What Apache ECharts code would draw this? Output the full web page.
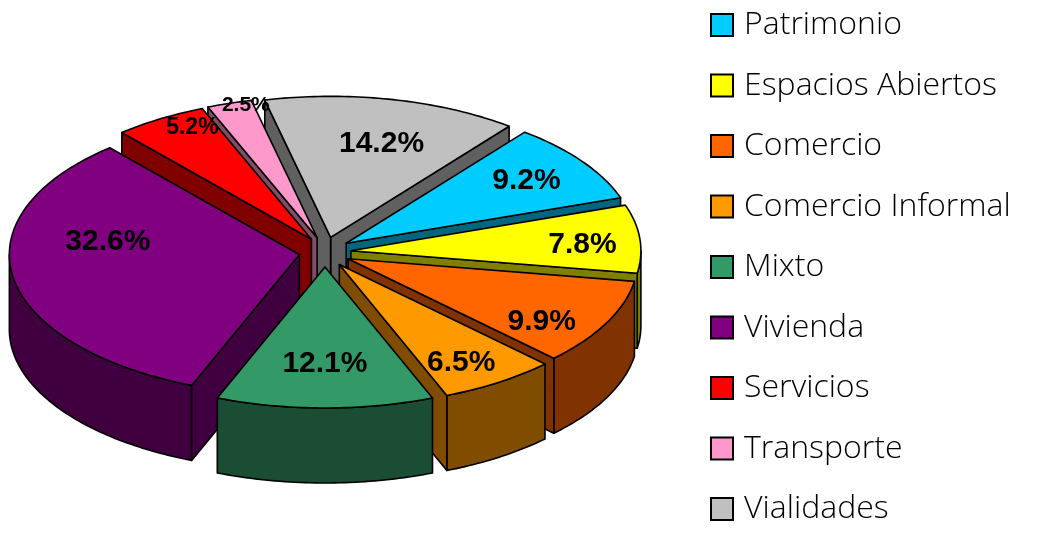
<!DOCTYPE html>
<html>
<head>
<meta charset="utf-8">
<script src="https://cdn.jsdelivr.net/npm/echarts@6/dist/echarts.min.js"></script>
<style>
html,body{margin:0;padding:0;background:#fff;}
#chart{width:1044px;height:544px;}
</style>
</head>
<body>
<div id="chart"></div>
<script>
// ---- data ----
const categories = ['Patrimonio','Espacios Abiertos','Comercio','Comercio Informal','Mixto','Vivienda','Servicios','Transporte','Vialidades'];
const values = [9.2, 7.8, 9.9, 6.5, 12.1, 32.6, 5.2, 2.5, 14.2];
const labels = ['9.2%','7.8%','9.9%','6.5%','12.1%','32.6%','5.2%','2.5%','14.2%'];

// ---- styles ----
const colors = ['#00CCFF','#FFFF00','#FF6600','#FF9900','#339966','#800080','#FF0000','#FF99CC','#C0C0C0'];
const labelFontSizes = [30,30,30,30,30,30,23,21,30];
const labelNudges = [[18,-6],[33,2],[16,19],[12,17],[0,0],[5,-29],[-15,-29],[-11,-40],[8,1]];

// ---- geometry of the 3D pie ----
const CX = 325, CY = 252, RA = 290, RB = 141, DEPTH = 75, EXX = 26, EXY = 15, START = 52, LABEL_K = 0.687;

const total = values.reduce((s, v) => s + v, 0);
const hiAngles = [];
(function () {
  let cum = 0;
  values.forEach(v => { hiAngles.push((START - cum / total * 360) * Math.PI / 180); cum += v; });
})();
const mids = values.map((v, i) => hiAngles[i] - v / total * Math.PI);
// back-to-front rank
const order = mids.map((m, i) => [Math.sin(m), i]).sort((p, q) => q[0] - p[0]).map(p => p[1]);
const rank = [];
order.forEach((idx, r) => { rank[idx] = r; });

function shade(hex, f) {
  const n = parseInt(hex.slice(1), 16);
  const r = (n >> 16) & 255, g = (n >> 8) & 255, b = n & 255;
  return 'rgb(' + Math.round(r * f) + ',' + Math.round(g * f) + ',' + Math.round(b * f) + ')';
}

function renderSlice(i, api) {
  const v = api.value(0);
  const hi = hiAngles[i];
  const lo = hi - v / total * 2 * Math.PI;
  const mid = (hi + lo) / 2;
  const ox = EXX * Math.cos(mid), oy = -EXY * Math.sin(mid);
  const P = (t, h) => [CX + ox + RA * Math.cos(t), CY + oy - RB * Math.sin(t) + h];
  const arc = (t0, t1, h) => {
    const n = Math.max(2, Math.ceil(Math.abs(t1 - t0) / (Math.PI / 180)));
    const pts = [];
    for (let k = 0; k <= n; k++) pts.push(P(t0 + (t1 - t0) * k / n, h));
    return pts;
  };
  const apex0 = [CX + ox, CY + oy], apexD = [CX + ox, CY + oy + DEPTH];
  const top = colors[i], side = shade(colors[i], 0.5);
  const base = rank[i] * 10;
  const stroke = { stroke: '#000', lineWidth: 1.6, lineJoin: 'round' };
  const children = [];
  // curved outer wall (front half only)
  for (let k = -2; k <= 2; k++) {
    const s = Math.max(lo, Math.PI + 2 * Math.PI * k);
    const e = Math.min(hi, 2 * Math.PI + 2 * Math.PI * k);
    if (e > s) {
      const pts = arc(s, e, 0).concat(arc(e, s, DEPTH));
      children.push({ type: 'polygon', z2: base, shape: { points: pts }, style: Object.assign({ fill: side }, stroke) });
    }
  }
  // radial walls
  if (Math.cos(lo) > 0) {
    children.push({ type: 'polygon', z2: base + 1, shape: { points: [apex0, P(lo, 0), P(lo, DEPTH), apexD] }, style: Object.assign({ fill: side }, stroke) });
  }
  if (Math.cos(hi) < 0) {
    children.push({ type: 'polygon', z2: base + 1, shape: { points: [apex0, P(hi, 0), P(hi, DEPTH), apexD] }, style: Object.assign({ fill: side }, stroke) });
  }
  // top face
  children.push({ type: 'polygon', z2: base + 2, shape: { points: [apex0].concat(arc(hi, lo, 0)) }, style: Object.assign({ fill: top }, stroke) });
  // label
  const lx = CX + ox + LABEL_K * RA * Math.cos(mid) + labelNudges[i][0];
  const ly = CY + oy - LABEL_K * RB * Math.sin(mid) + labelNudges[i][1];
  children.push({
    type: 'text', z2: 1000, x: lx, y: ly,
    style: { text: labels[i], fill: '#000', fontSize: labelFontSizes[i], fontWeight: 'bold', fontFamily: '"Liberation Sans", Arial, sans-serif', align: 'center', verticalAlign: 'middle' }
  });
  return { type: 'group', children: children };
}

const chart = echarts.init(document.getElementById('chart'), null, { renderer: 'canvas' });
chart.setOption({
  backgroundColor: '#fff',
  animation: false,
  legend: {
    orient: 'vertical', left: 705, top: 4, padding: 5,
    itemWidth: 22, itemHeight: 22, itemGap: 28.5, icon: 'rect',
    itemStyle: { borderColor: '#000', borderWidth: 2 },
    textStyle: { fontFamily: '"Open Sans", Lato, sans-serif', fontWeight: 300, fontSize: 32, lineHeight: 32, color: '#000', padding: [0, 0, 0, 6] },
    data: categories
  },
  series: categories.map((name, i) => ({
    type: 'custom', name: name, coordinateSystem: 'none',
    itemStyle: { color: colors[i] },
    data: [values[i]],
    renderItem: (params, api) => renderSlice(i, api)
  }))
});
</script>
</body>
</html>
